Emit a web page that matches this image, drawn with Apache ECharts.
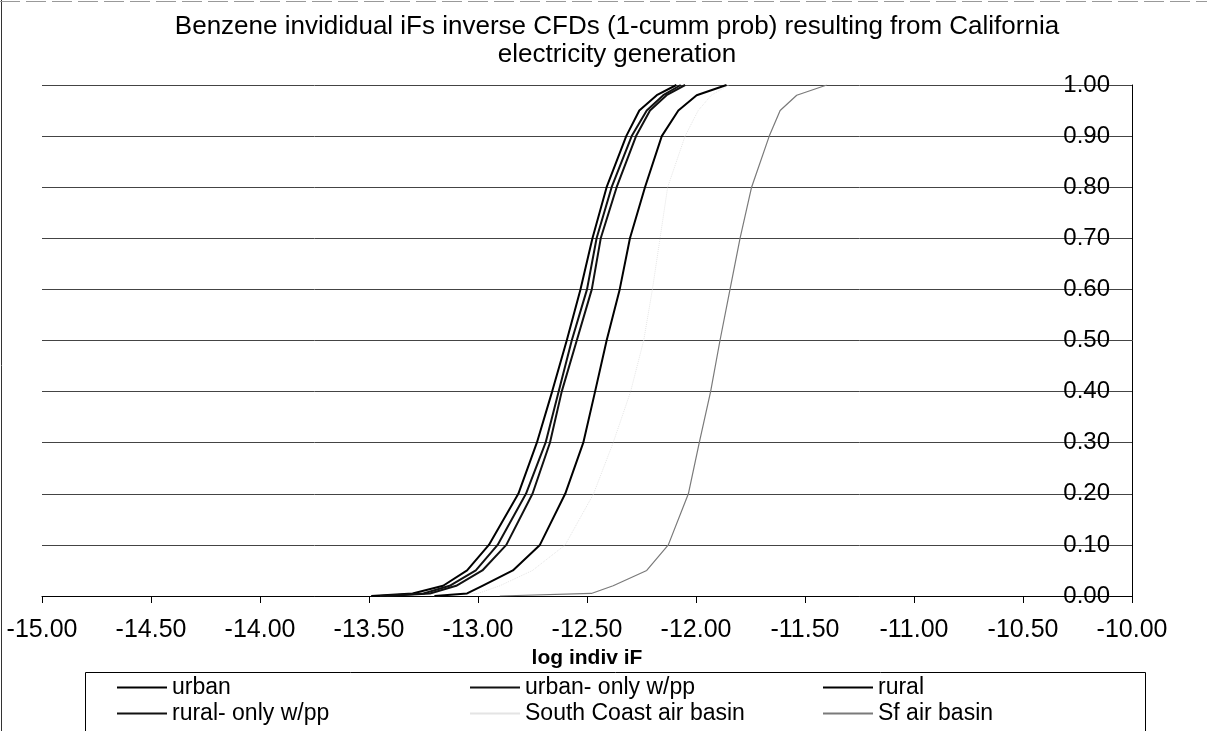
<!DOCTYPE html>
<html>
<head>
<meta charset="utf-8">
<script src="https://cdn.jsdelivr.net/npm/echarts@6/dist/echarts.min.js"></script>
<style>
html,body{margin:0;padding:0;background:#fff;}
#chart{width:1207px;height:731px;}
</style>
</head>
<body>
<div id="chart"></div>
<script>
// cumulative probability levels (y values)
var probs = [0, 0.005, 0.02, 0.05, 0.1, 0.2, 0.3, 0.4, 0.5, 0.6, 0.7, 0.8, 0.9, 0.95, 0.98, 1.0];
// log indiv iF at each probability level (x values)
var urban        = [-13.49, -13.30, -13.16, -13.05, -12.95, -12.815, -12.73, -12.66, -12.593, -12.53, -12.475, -12.41, -12.32, -12.26, -12.18, -12.09];
var urbanPP      = [-13.45, -13.25, -13.13, -13.01, -12.91, -12.78, -12.69, -12.63, -12.57, -12.50, -12.456, -12.387, -12.295, -12.226, -12.15, -12.07];
var rural        = [-13.20, -13.05, -12.98, -12.84, -12.716, -12.60, -12.517, -12.463, -12.41, -12.35, -12.303, -12.234, -12.157, -12.081, -11.997, -11.86];
var ruralPP      = [-13.42, -13.22, -13.10, -12.98, -12.87, -12.75, -12.67, -12.616, -12.547, -12.478, -12.437, -12.364, -12.275, -12.211, -12.135, -12.05];
var southCoast   = [-13.20, -13.00, -12.90, -12.75, -12.60, -12.47, -12.38, -12.30, -12.24, -12.20, -12.165, -12.13, -12.05, -11.99, -11.93, -11.85];
var sfBasin      = [-12.90, -12.48, -12.38, -12.226, -12.127, -12.035, -11.985, -11.933, -11.89, -11.844, -11.798, -11.745, -11.664, -11.614, -11.538, -11.40];

var seriesNames = ['urban', 'urban- only w/pp', 'rural', 'rural- only w/pp', 'South Coast air basin', 'Sf air basin'];
var xTicks = { min: -15, max: -10, interval: 0.5 };
var yTicks = { min: 0, max: 1, interval: 0.1 };

function pairs(xs) { return xs.map(function (x, i) { return [x, probs[i]]; }); }

var FONT = '"Liberation Sans", Arial, sans-serif';

var styles = [
  { color: '#000000', width: 2 },
  { color: '#111111', width: 2 },
  { color: '#000000', width: 2 },
  { color: '#111111', width: 2 },
  { color: '#e4e4e4', width: 1, type: 'dotted' },
  { color: '#7a7a7a', width: 1.2 }
];
var dataSets = [urban, urbanPP, rural, ruralPP, southCoast, sfBasin];

var series = seriesNames.map(function (name, i) {
  return {
    name: name,
    type: 'line',
    data: pairs(dataSets[i]),
    symbol: 'none',
    showSymbol: false,
    smooth: false,
    color: styles[i].color,
    itemStyle: { color: styles[i].color },
    lineStyle: { color: styles[i].color, width: styles[i].width, type: styles[i].type || 'solid' },
    z: i === 4 ? 1 : 3,
    animation: false
  };
});

function makeLegend(left, names) {
  return {
    orient: 'vertical',
    left: left,
    top: 676,
    padding: 0,
    icon: 'rect',
    itemWidth: 50,
    itemHeight: 2,
    itemGap: 3,
    textStyle: { fontFamily: FONT, fontSize: 23, color: '#000' },
    selectedMode: false,
    data: names
  };
}

var chart = echarts.init(document.getElementById('chart'), null, { renderer: 'canvas' });
chart.setOption({
  backgroundColor: '#ffffff',
  animation: false,
  title: {
    text: 'Benzene invididual iFs inverse CFDs (1-cumm prob) resulting from California\nelectricity generation',
    left: 612,
    top: 8,
    textAlign: 'center',
    textStyle: { fontFamily: FONT, fontSize: 26, fontWeight: 'normal', color: '#000', lineHeight: 28 }
  },
  grid: { left: 42, right: 75, top: 85, bottom: 135, containLabel: false },
  xAxis: {
    type: 'value',
    min: xTicks.min, max: xTicks.max, interval: xTicks.interval,
    name: 'log indiv iF',
    nameLocation: 'middle',
    nameGap: 51,
    nameTextStyle: { fontFamily: FONT, fontSize: 21, fontWeight: 'bold', color: '#000' },
    axisLine: { show: true, onZero: false, lineStyle: { color: '#000', width: 1 } },
    axisTick: { show: true, inside: false, length: 7, lineStyle: { color: '#000' } },
    axisLabel: {
      margin: 22,
      fontFamily: FONT, fontSize: 25, color: '#000',
      formatter: function (v) { return v.toFixed(2); }
    },
    splitLine: { show: false }
  },
  yAxis: {
    type: 'value',
    position: 'right',
    min: yTicks.min, max: yTicks.max, interval: yTicks.interval,
    axisLine: { show: true, lineStyle: { color: '#000', width: 1 } },
    axisTick: { show: false },
    axisLabel: {
      inside: true,
      margin: 22,
      fontFamily: FONT, fontSize: 24, color: '#000',
      formatter: function (v) { return v.toFixed(2); }
    },
    splitLine: { show: true, lineStyle: { color: '#444', width: 1 } }
  },
  legend: [
    makeLegend(117, [seriesNames[0], seriesNames[3]]),
    makeLegend(470, [seriesNames[1], seriesNames[4]]),
    makeLegend(823, [seriesNames[2], seriesNames[5]])
  ],
  graphic: [
    { type: 'rect', left: 83, top: 670, shape: { width: 1060, height: 90 }, style: { fill: 'none', stroke: '#000', lineWidth: 1 }, silent: true, z: -1 },
    { type: 'line', shape: { x1: 1.5, y1: 0, x2: 1.5, y2: 731 }, style: { stroke: '#333', lineWidth: 1 }, silent: true },
    { type: 'line', shape: { x1: 0, y1: 1.5, x2: 1207, y2: 1.5 }, style: { stroke: '#999', lineWidth: 1, lineDash: [20, 6] }, silent: true }
  ],
  series: series
});
</script>
</body>
</html>
